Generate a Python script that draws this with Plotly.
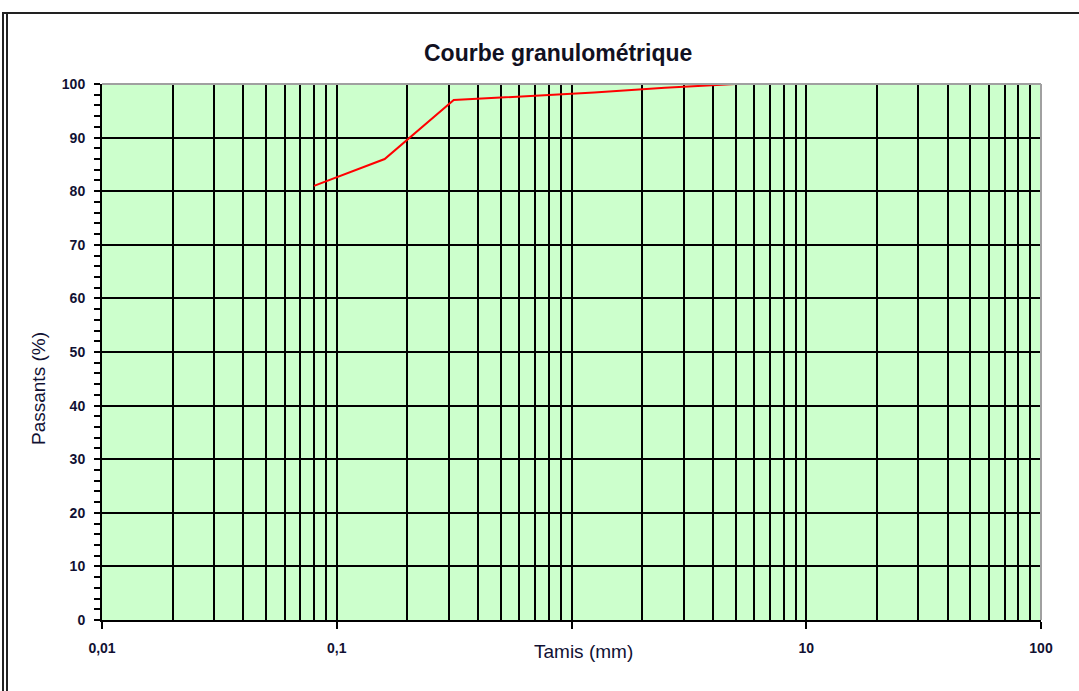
import plotly.graph_objects as go

# Sieve openings (mm) and cumulative percentage passing
tamis_mm = [0.08, 0.16, 0.315, 0.63, 1.25, 2.5, 5.0]
passants = [81.0, 86.0, 97.0, 97.7, 98.4, 99.3, 100.0]

# Axis ticks
x_major = [0.01, 0.1, 1, 10, 100]
x_major_text = ["0,01", "0,1", "", "10", "100"]
x_minor = [m * d for d in (0.01, 0.1, 1, 10) for m in range(2, 10)]
y_major = list(range(0, 101, 10))

FONT = "Liberation Sans Narrow, Arial Narrow, Liberation Sans, Arial, sans-serif"

W, H = 1079, 691
L, R, T, B = 102, 1041, 84, 620


def px(x):
    return (x - L) / (R - L)


def py(y):
    return (B - y) / (B - T)


fig = go.Figure()
fig.add_trace(go.Scatter(
    x=tamis_mm, y=passants, mode="lines",
    line=dict(color="#ff0000", width=2),
    hoverinfo="x+y", showlegend=False,
))

fig.update_layout(
    width=W, height=H, autosize=False,
    margin=dict(l=L, r=W - R, t=T, b=H - B, pad=0),
    paper_bgcolor="white",
    plot_bgcolor="#ccffcc",
    font=dict(family=FONT, color="#000000", size=13),
    showlegend=False,
)

fig.update_xaxes(
    type="log", range=[-2, 2],
    tickmode="array", tickvals=x_major, ticktext=x_major_text,
    ticks="outside", ticklen=7, tickwidth=1.5, tickcolor="black",
    ticklabelstandoff=7,
    tickfont=dict(family=FONT, size=14, weight="bold", color="#111133"),
    showgrid=True, gridcolor="black", gridwidth=1.7,
    minor=dict(tickmode="array", tickvals=x_minor, ticks="",
               showgrid=True, gridcolor="black", gridwidth=1.7),
    showline=True, linecolor="black", linewidth=2,
    zeroline=False,
)

fig.update_yaxes(
    range=[0, 100],
    tickmode="array", tickvals=y_major,
    ticks="outside", ticklen=6, tickwidth=1.5, tickcolor="black",
    ticklabelstandoff=6,
    tickfont=dict(family=FONT, size=14, weight="bold", color="#111133"),
    showgrid=True, gridcolor="black", gridwidth=1.7,
    minor=dict(dtick=2, ticks="outside", ticklen=6, tickwidth=1.5,
               tickcolor="black", showgrid=False),
    showline=True, linecolor="black", linewidth=2,
    zeroline=False,
)

shapes = [
    # grey top and right edges of the plot area
    dict(type="line", xref="paper", yref="paper", x0=0, x1=1, y0=1, y1=1,
         line=dict(color="#a0a0a0", width=2)),
    dict(type="line", xref="paper", yref="paper", x0=1, x1=1, y0=0, y1=1,
         line=dict(color="#a0a0a0", width=2)),
    # outer chart frame (double line on the left, single on top)
    dict(type="line", xref="paper", yref="paper",
         x0=px(3), x1=px(3), y0=py(12), y1=py(H + 5),
         line=dict(color="#222222", width=2)),
    dict(type="line", xref="paper", yref="paper",
         x0=px(7), x1=px(7), y0=py(14), y1=py(H + 5),
         line=dict(color="#222222", width=2)),
    dict(type="line", xref="paper", yref="paper",
         x0=px(3), x1=px(W + 5), y0=py(13), y1=py(13),
         line=dict(color="#222222", width=2)),
]
fig.update_layout(shapes=shapes)

annotations = [
    dict(text="Courbe granulométrique", xref="paper", yref="paper",
         x=px(558), y=py(53), showarrow=False,
         xanchor="center", yanchor="middle",
         font=dict(family=FONT, size=23, weight="bold", color="#111122")),
    dict(text="Tamis (mm)", xref="paper", yref="paper",
         x=px(583), y=py(651), showarrow=False,
         xanchor="center", yanchor="middle",
         font=dict(family=FONT, size=19, color="#111133")),
    dict(text="Passants (%)", xref="paper", yref="paper",
         x=px(38), y=py(389), showarrow=False, textangle=-90,
         xanchor="center", yanchor="middle",
         font=dict(family=FONT, size=19, color="#111133")),
]
fig.update_layout(annotations=annotations)

fig.write_html("out.html")
